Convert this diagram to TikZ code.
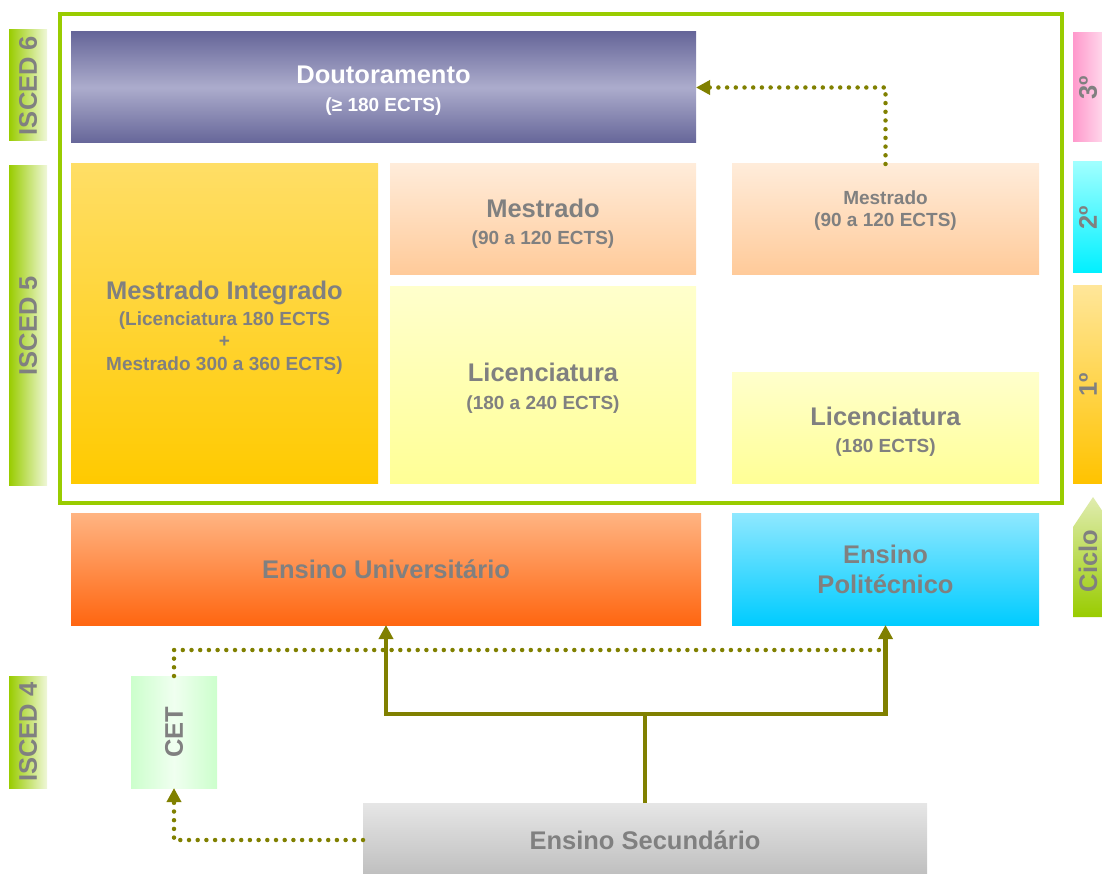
\documentclass[tikz,border=0pt]{standalone}
\usepackage{fontspec}
\setmainfont{Liberation Sans}
\usetikzlibrary{arrows.meta}
\definecolor{txtgray}{HTML}{808080}
\definecolor{frameg}{HTML}{99CC00}
\definecolor{olive}{HTML}{808000}
\definecolor{pinkA}{HTML}{FF99CC}
\definecolor{pinkB}{HTML}{FFD6EA}
\definecolor{cyanA}{HTML}{A0FFFF}
\definecolor{cyanB}{HTML}{00F0FF}
\definecolor{goldA}{HTML}{FFE699}
\definecolor{goldB}{HTML}{FFC300}
\definecolor{cicA}{HTML}{E0ECB0}
\definecolor{douA}{HTML}{666699}
\definecolor{douB}{HTML}{ACACCC}
\definecolor{miA}{HTML}{FFDE66}
\definecolor{miB}{HTML}{FFCA00}
\definecolor{meA}{HTML}{FFECDA}
\definecolor{meB}{HTML}{FFCA99}
\definecolor{liA}{HTML}{FFFFCC}
\definecolor{liB}{HTML}{FFFF96}
\definecolor{unA}{HTML}{FFB482}
\definecolor{unB}{HTML}{FF6611}
\definecolor{poA}{HTML}{8FE8FF}
\definecolor{poB}{HTML}{00CCFF}
\definecolor{ceA}{HTML}{CCFFCC}
\definecolor{ceB}{HTML}{F0FFF0}
\definecolor{seA}{HTML}{E6E6E6}
\definecolor{seB}{HTML}{BEBEBE}
\tikzset{
  box/.style={rectangle, inner sep=0pt, outer sep=0pt, align=center, text=txtgray,
    font=\fontsize{25.5}{25}\selectfont\bfseries},
  lbl/.style={inner sep=0pt, outer sep=0pt, align=center, text=txtgray,
    font=\fontsize{25.5}{25}\selectfont\bfseries},
  sub/.style={font=\fontsize{19}{22}\selectfont\bfseries},
  isced/.style={box, left color=frameg, right color=frameg!15, minimum width=38pt},
  dotline/.style={draw=olive, line width=4.5pt, line cap=round, dash pattern=on 0pt off 8.7pt},
  solidline/.style={draw=olive, line width=4.5pt},
  tip/.style={-{Triangle[width=14pt,length=14pt]}},
}
\newcommand{\subl}[1]{{\fontsize{19}{22}\selectfont #1}}
\begin{document}
\begin{tikzpicture}[x=1pt,y=-1pt]
\useasboundingbox (0,0) rectangle (1102,874);
\clip (0,0) rectangle (1102,874);

% green frame
\draw[frameg, line width=4pt] (60,14) rectangle (1062,503);

% left ISCED bars
\node[isced, minimum height=111pt] (i6) at (28,85.5) {\rotatebox{90}{ISCED 6}};
\node[isced, minimum height=319pt] (i5) at (28,325.5) {\rotatebox{90}{ISCED 5}};
\node[isced, minimum height=112pt] (i4) at (28,732) {\rotatebox{90}{ISCED 4}};

% right cycle bars
\node[box, minimum width=29pt, minimum height=109pt, left color=pinkA, right color=pinkB]
      (c3) at (1087.5,87.5) {};
\node[lbl] (c3t) at (1088,87.5) {\rotatebox{90}{3º}};
\node[box, minimum width=29pt, minimum height=111pt, top color=cyanA, bottom color=cyanB]
      (c2) at (1087.5,217.5) {};
\node[lbl] (c2t) at (1088,217.5) {\rotatebox{90}{2º}};
\node[box, minimum width=29pt, minimum height=197pt, top color=goldA, bottom color=goldB]
      (c1) at (1087.5,384.5) {};
\node[lbl] (c1t) at (1088,384.5) {\rotatebox{90}{1º}};
\shade[top color=cicA, bottom color=frameg]
  (1073,617) -- (1073,527) -- (1093,497) -- (1102,510.5) -- (1102,617) -- cycle;
\node[lbl] (ciclo) at (1088,561) {\rotatebox{90}{Ciclo}};

% Doutoramento
\node[box, minimum width=625pt, minimum height=111pt,
      top color=douA, bottom color=douA, middle color=douB] (dout) at (383.5,87.5) {};
\node[lbl, text=white] (doutt) at ([yshift=-3.5pt]dout.center) {Doutoramento\\[3pt]\subl{(≥ 180 ECTS)}};

% Mestrado Integrado
\node[box, minimum width=307pt, minimum height=319pt, top color=miA, bottom color=miB]
      (mi) at (224.5,323.5) {};
\node[lbl] (mit) at ([yshift=-4pt]mi.center)
  {Mestrado Integrado\\[1pt]\subl{(Licenciatura 180 ECTS}\\[-2.5pt]\subl{+}\\[-2.5pt]\subl{Mestrado 300 a 360 ECTS)}};

% Mestrado universitario
\node[box, minimum width=306pt, minimum height=111pt, top color=meA, bottom color=meB]
      (mu) at (543,219.5) {};
\node[lbl] (mut) at ([yshift=-4.5pt]mu.center) {Mestrado\\[2pt]\subl{(90 a 120 ECTS)}};

% Licenciatura universitaria
\node[box, minimum width=306pt, minimum height=196pt, top color=liA, bottom color=liB]
      (lu) at (543,385) {};
\node[lbl] (lut) at ([yshift=-3.5pt]lu.center) {Licenciatura\\[3pt]\subl{(180 a 240 ECTS)}};

% Mestrado politecnico
\node[box, minimum width=307pt, minimum height=111pt, top color=meA, bottom color=meB]
      (mp) at (885.5,219.5) {};
\node[lbl, sub] (mpt) at ([yshift=8.5pt]mp.center) {Mestrado\\(90 a 120 ECTS)};

% Licenciatura politecnica
\node[box, minimum width=307pt, minimum height=111pt, top color=liA, bottom color=liB]
      (lp) at (885.5,427.5) {};
\node[lbl] (lpt) at ([yshift=-4pt]lp.center) {Licenciatura\\[2pt]\subl{(180 ECTS)}};

% Ensino Universitario
\node[box, minimum width=630pt, minimum height=112pt, top color=unA, bottom color=unB]
      (univ) at (386,569) {Ensino Universitário};

% Ensino Politecnico
\node[box, font=\fontsize{25.5}{30}\selectfont\bfseries, minimum width=307pt, minimum height=112pt,
      top color=poA, bottom color=poB]
      (poli) at (885.5,569) {Ensino\\Politécnico};

% CET
\node[box, minimum width=86pt, minimum height=112pt,
      left color=ceA, right color=ceA, middle color=ceB]
      (cet) at (174,732) {\rotatebox{90}{CET}};

% Ensino Secundario
\node[box, minimum width=564pt, minimum height=74pt, top color=seA, bottom color=seB]
      (sec) at (645,840) {Ensino Secundário};

% connectors
\coordinate (j) at (sec.north |- 0,714);
\coordinate (d1) at (poli.south |- 0,650);
\draw[dotline] (cet.north) |- (d1);
\draw[dotline, tip] (sec.west) -| (cet.south);
\draw[dotline, tip] (mp.north) |- (dout.east);
\draw[solidline, {Triangle[width=14pt,length=14pt]}-{Triangle[width=14pt,length=14pt]}]
  (univ.south) |- (j) -| (poli.south);
\draw[solidline] (sec.north) -- (j);
\end{tikzpicture}
\end{document}
